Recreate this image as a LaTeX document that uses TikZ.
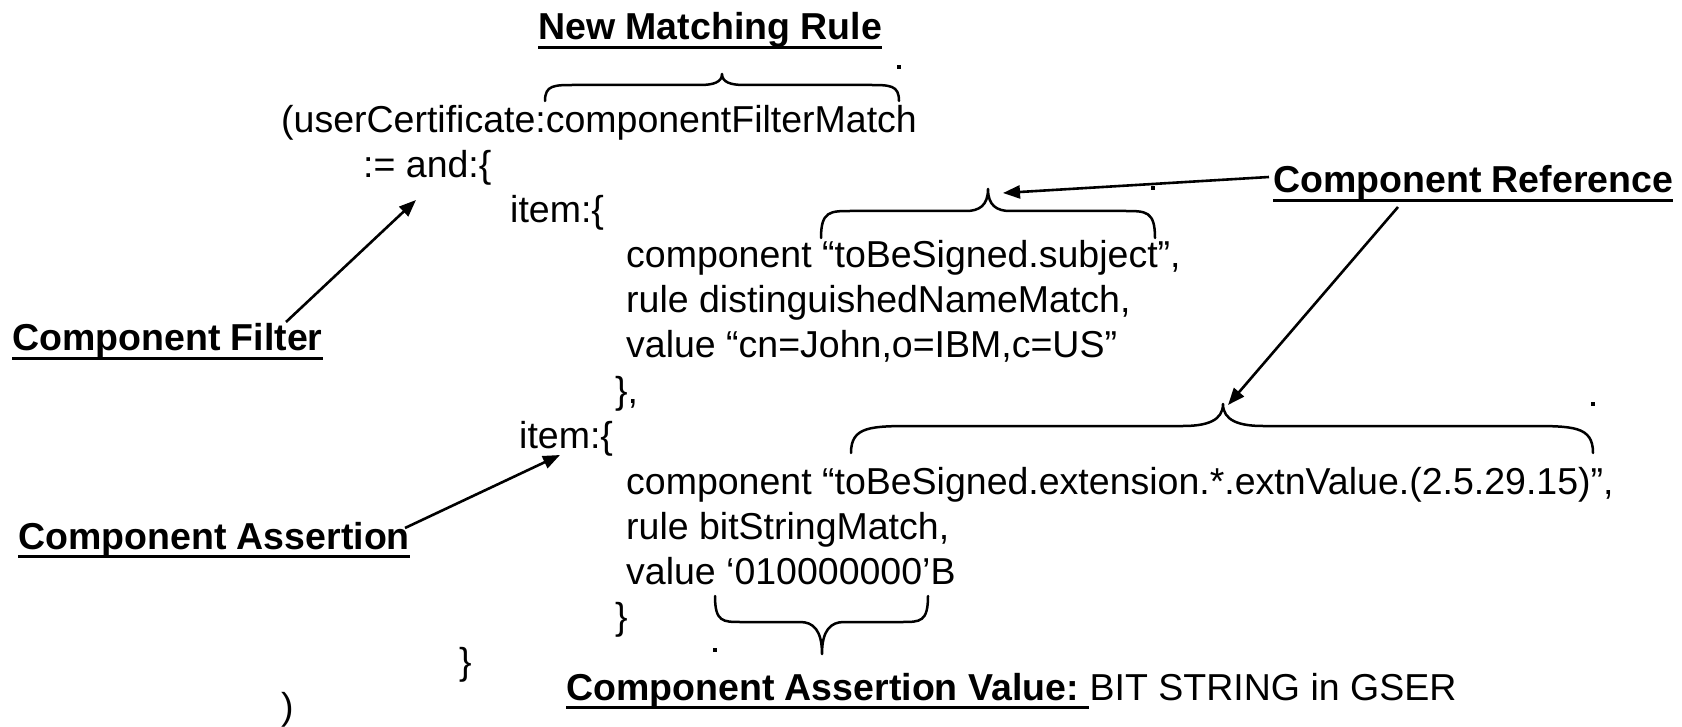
\documentclass[tikz,border=0pt]{standalone}
\usepackage{fontspec}
\setmainfont{Liberation Sans}
\usetikzlibrary{arrows.meta}
\newcommand{\hbr}[9]{% x1 x2 yend yh xt ytip r c
  (#1,#3) .. controls (#1,#4) and ({#1+0.3*#7},#4) .. ({#1+#7},#4)
  -- ({#5-#8},#4) .. controls ({#5-0.4*#8},#4) and (#5,{#4+0.25*(#6-#4)}) .. (#5,#6)
  .. controls (#5,{#4+0.25*(#6-#4)}) and ({#5+0.4*#8},#4) .. ({#5+#8},#4)
  -- ({#2-#7},#4) .. controls ({#2-0.3*#7},#4) and (#2,#4) .. (#2,#3)#9}
\begin{document}
\begin{tikzpicture}[x=1pt,y=-1pt,
  code/.style={anchor=base west,inner sep=0pt,font=\fontsize{37.5}{45}\selectfont},
  lab/.style={anchor=base west,inner sep=0pt,font=\fontsize{37.5}{45}\selectfont\bfseries},
  brace/.style={line width=2.5pt,line join=round,line cap=round},
  arr/.style={line width=2.6pt,-{Triangle[length=17pt,width=13pt]}},
  uline/.style={line width=2.4pt},
  dot/.style={fill=black,inner sep=0pt,minimum size=4pt}]
\useasboundingbox (0,0) rectangle (1682,727);

% code lines
\node[code] (l1)  at (281,133) {(userCertificate:componentFilterMatch};
\node[code] (l2)  at (363,178) {:= and:\{};
\node[code] (l3)  at (510,223) {item:\{};
\node[code] (l4)  at (626,268) {component “toBeSigned.subject”,};
\node[code] (l5)  at (626,313) {rule distinguishedNameMatch,};
\node[code] (l6)  at (626,358) {value “cn=John,o=IBM,c=US”};
\node[code] (l7)  at (615,403) {\},};
\node[code] (l8)  at (519,448) {item:\{};
\node[code] (l9)  at (626,494) {component “toBeSigned.extension.*.extnValue.(2.5.29.15)”,};
\node[code] (l10) at (626,539) {rule bitStringMatch,};
\node[code] (l11) at (626,584) {value ‘010000000’B};
\node[code] (l12) at (615,629) {\}};
\node[code] (l13) at (459,674) {\}};
\node[code] (l14) at (281,719) {)};

% labels
\node[lab] (nmr) at (538,40) {New Matching Rule};
\node[lab] (cf)  at (12,351) {Component Filter};
\node[lab] (ca)  at (18,549) {Component Assertion};
\node[lab] (cr)  at (1273,193) {Component Reference};
\node[lab] (cav) at (566,700) {Component Assertion Value:\kern0.28em};
\node[code,anchor=base west] (bs) at (cav.base east) {BIT STRING in GSER};
\foreach \n in {nmr,cf,ca,cr,cav}
  \draw[uline] ([yshift=-7.5pt]\n.base west) -- ([yshift=-7.5pt]\n.base east);

% braces
\draw[brace] \hbr{545}{899}{101}{85}{722}{74}{30}{22}{};
\draw[brace] \hbr{821}{1155}{238}{211}{988}{189}{30}{22}{};
\draw[brace] \hbr{851}{1593}{453}{426}{1223}{404}{66}{40}{};
\draw[brace] \hbr{715}{928}{596}{622}{822}{654}{26}{22}{};

% stray dots
\node[dot] (d1) at (899,67) {};
\node[dot] (d2) at (1153,188) {};
\node[dot] (d3) at (1593,404) {};
\node[dot] (d4) at (715,650) {};

% arrows
\coordinate (cfs) at (286,322);  \coordinate (cfe) at (416,200);
\coordinate (cas) at (405,528);  \coordinate (cae) at (560,455);
\coordinate (crs1) at (1269,177); \coordinate (cre1) at (1003,193);
\coordinate (crs2) at (1398,207); \coordinate (cre2) at (1228,405);
\draw[arr] (cfs) -- (cfe);
\draw[arr] (cas) -- (cae);
\draw[arr] (crs1) -- (cre1);
\draw[arr] (crs2) -- (cre2);
\end{tikzpicture}
\end{document}
